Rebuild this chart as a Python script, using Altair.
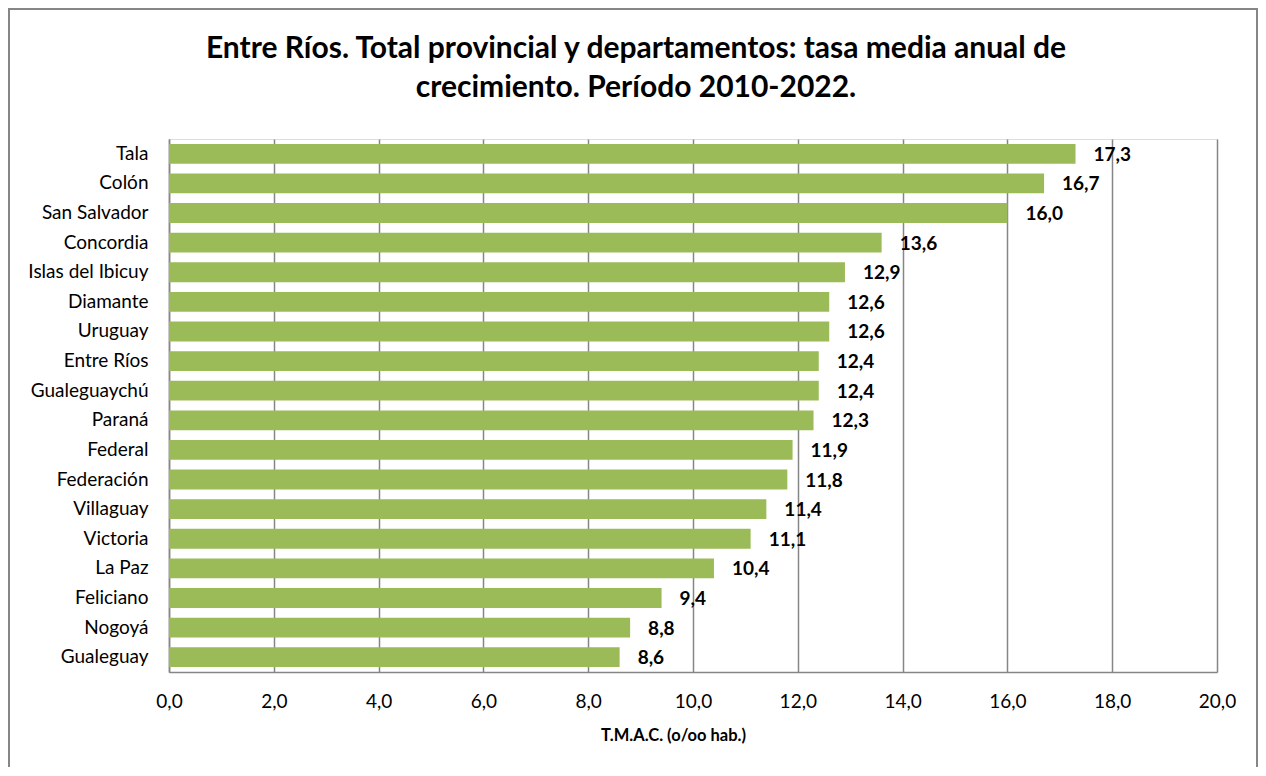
import altair as alt
import pandas as pd

title_lines = ["Entre Ríos. Total provincial y departamentos: tasa media anual de",
               "crecimiento. Período 2010-2022."]
departamentos = ["Tala", "Colón\u00a0", "San Salvador", "Concordia", "Islas del Ibicuy",
                 "Diamante", "Uruguay", "Entre Ríos", "Gualeguaychú", "Paraná",
                 "Federal", "Federación", "Villaguay", "Victoria", "La Paz",
                 "Feliciano", "Nogoyá", "Gualeguay"]
tmac = [17.3, 16.7, 16.0, 13.6, 12.9, 12.6, 12.6, 12.4, 12.4, 12.3,
        11.9, 11.8, 11.4, 11.1, 10.4, 9.4, 8.8, 8.6]
x_ticks = [0, 2, 4, 6, 8, 10, 12, 14, 16, 18, 20]

df = pd.DataFrame({"dep": departamentos, "v": tmac})

FONT = "Lato"
GRID = "#868686"
W, H = 1048, 533

base = alt.Chart(df)

bars = base.mark_bar(color="#9BBB59").encode(
    y=alt.Y("dep:N", sort=departamentos, title=None,
            scale=alt.Scale(paddingInner=0.33, paddingOuter=0.165),
            axis=alt.Axis(labelFont=FONT, labelFontSize=19, labelColor="black",
                          labelPadding=21, ticks=False, domainColor=GRID,
                          domainWidth=1.5, labelLimit=300, grid=False)),
    x=alt.X("v:Q", title="T.M.A.C. (o/oo hab.)",
            scale=alt.Scale(domain=[0, 20], nice=False),
            axis=alt.Axis(values=x_ticks,
                          labelExpr="replace(format(datum.value, '.1f'), '.', ',')",
                          labelFont=FONT, labelFontSize=19, labelColor="black",
                          labelPadding=20, labelFlush=False, ticks=False,
                          domainColor=GRID, domainWidth=1.5, grid=True,
                          gridColor=GRID, gridWidth=1.5, gridOpacity=1,
                          titleFont=FONT, titleFontSize=16.5, titleFontWeight="bold",
                          titleColor="black", titlePadding=16, titleX=504)),
)

labels = base.transform_calculate(
    lab="replace(format(datum.v, '.1f'), '.', ',')"
).mark_text(align="left", baseline="middle", dx=18, dy=1, font=FONT,
            fontSize=19, fontWeight="bold", color="black").encode(
    y=alt.Y("dep:N", sort=departamentos),
    x=alt.X("v:Q"),
    text="lab:N",
)

title1 = alt.Chart(pd.DataFrame({"t": [title_lines[0]]})).mark_text(
    align="center", baseline="alphabetic", font=FONT, fontSize=30,
    fontWeight="bold", color="black").encode(
    text="t:N", x=alt.value(467), y=alt.value(-81))

title2 = alt.Chart(pd.DataFrame({"t": [title_lines[1]]})).mark_text(
    align="center", baseline="alphabetic", font=FONT, fontSize=30,
    fontWeight="bold", color="black").encode(
    text="t:N", x=alt.value(467), y=alt.value(-42))

frame = base.mark_rect(fill=None, stroke=GRID, strokeWidth=1.5, clip=False).encode(
    x=alt.value(-160), x2=alt.value(1088), y=alt.value(-130), y2=alt.value(650)
)

chart = alt.layer(bars, labels, title1, title2, frame).properties(
    width=W, height=H,
    autosize=alt.AutoSizeParams(type="none"),
    padding={"left": 161, "top": 131, "right": 41, "bottom": 95},
).configure_view(stroke=None).configure(background="white")

chart.save("out.html", embed_options={"renderer": "svg", "actions": False})
